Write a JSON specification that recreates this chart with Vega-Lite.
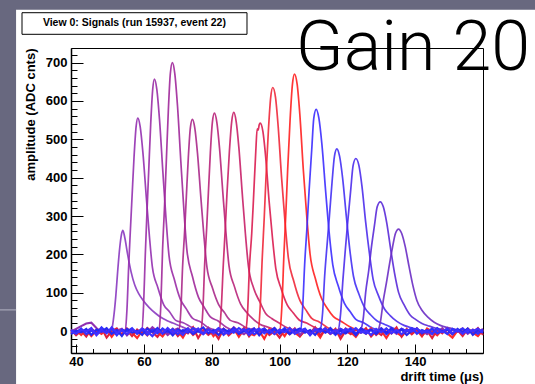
{
 "$schema": "https://vega.github.io/schema/vega-lite/v6.json",
 "width": 412, "height": 305,
 "autosize": {"type": "none"},
 "padding": {"left": 71, "top": 48, "right": 52, "bottom": 31},
 "background": "white",
 "config": {
  "view": {"stroke": "#000", "strokeWidth": 1},
  "axis": {"zindex": 1, "grid": false, "labelFont": "Liberation Sans", "titleFont": "Liberation Sans", "labelColor": "#000", "titleColor": "#000", "tickColor": "#000", "domainColor": "#000"}
 },
 "datasets": {
  "one": [{"k": 1}],
  "pulses": [
   {"c":"c01","x":49.8,"y":-2},{"c":"c01","x":50.4,"y":1},{"c":"c01","x":51.0,"y":30},{"c":"c01","x":51.7,"y":90},{"c":"c01","x":52.3,"y":160},{"c":"c01","x":52.9,"y":220},{"c":"c01","x":53.4,"y":253},{"c":"c01","x":53.8,"y":263},{"c":"c01","x":54.4,"y":242},{"c":"c01","x":55.2,"y":200},{"c":"c01","x":56.2,"y":155},{"c":"c01","x":57.3,"y":120},{"c":"c01","x":58.5,"y":97},{"c":"c01","x":59.8,"y":80},{"c":"c01","x":61.5,"y":62},{"c":"c01","x":63.5,"y":46},{"c":"c01","x":65.0,"y":36},{"c":"c01","x":66.7,"y":28},{"c":"c01","x":68.5,"y":21},{"c":"c01","x":70.5,"y":14},{"c":"c01","x":72.6,"y":6},{"c":"c01","x":74.5,"y":0},
   {"c":"c02","x":54.0,"y":0},{"c":"c02","x":54.5,"y":2},{"c":"c02","x":55.0,"y":56},{"c":"c02","x":55.5,"y":167},{"c":"c02","x":56.0,"y":261},{"c":"c02","x":56.5,"y":350},{"c":"c02","x":57.1,"y":455},{"c":"c02","x":57.7,"y":533},{"c":"c02","x":58.2,"y":555},{"c":"c02","x":58.9,"y":533},{"c":"c02","x":59.7,"y":466},{"c":"c02","x":60.7,"y":350},{"c":"c02","x":61.6,"y":250},{"c":"c02","x":62.5,"y":167},{"c":"c02","x":64.1,"y":114},{"c":"c02","x":65.9,"y":68},{"c":"c02","x":67.6,"y":50},{"c":"c02","x":69.4,"y":28},{"c":"c02","x":71.6,"y":22},{"c":"c02","x":74.1,"y":10},{"c":"c02","x":76.6,"y":3},
   {"c":"c03","x":58.9,"y":0},{"c":"c03","x":59.4,"y":1},{"c":"c03","x":59.9,"y":66},{"c":"c03","x":60.4,"y":197},{"c":"c03","x":60.9,"y":309},{"c":"c03","x":61.4,"y":414},{"c":"c03","x":62.0,"y":539},{"c":"c03","x":62.6,"y":631},{"c":"c03","x":63.1,"y":657},{"c":"c03","x":63.8,"y":631},{"c":"c03","x":64.6,"y":552},{"c":"c03","x":65.6,"y":414},{"c":"c03","x":66.5,"y":296},{"c":"c03","x":67.4,"y":197},{"c":"c03","x":69.0,"y":134},{"c":"c03","x":70.8,"y":82},{"c":"c03","x":72.5,"y":58},{"c":"c03","x":74.3,"y":34},{"c":"c03","x":76.5,"y":25},{"c":"c03","x":79.0,"y":9},{"c":"c03","x":81.5,"y":2},
   {"c":"c04","x":63.9,"y":0},{"c":"c04","x":64.4,"y":2},{"c":"c04","x":65.0,"y":70},{"c":"c04","x":65.5,"y":210},{"c":"c04","x":66.1,"y":329},{"c":"c04","x":66.6,"y":441},{"c":"c04","x":67.2,"y":574},{"c":"c04","x":67.8,"y":672},{"c":"c04","x":68.4,"y":700},{"c":"c04","x":69.1,"y":672},{"c":"c04","x":69.9,"y":588},{"c":"c04","x":70.9,"y":441},{"c":"c04","x":71.8,"y":315},{"c":"c04","x":72.7,"y":210},{"c":"c04","x":74.3,"y":143},{"c":"c04","x":76.1,"y":88},{"c":"c04","x":77.8,"y":62},{"c":"c04","x":79.6,"y":37},{"c":"c04","x":81.8,"y":27},{"c":"c04","x":84.3,"y":10},{"c":"c04","x":86.8,"y":1},
   {"c":"c05","x":69.8,"y":0},{"c":"c05","x":70.3,"y":1},{"c":"c05","x":70.9,"y":55},{"c":"c05","x":71.4,"y":166},{"c":"c05","x":72.0,"y":259},{"c":"c05","x":72.5,"y":348},{"c":"c05","x":73.1,"y":453},{"c":"c05","x":73.7,"y":530},{"c":"c05","x":74.3,"y":552},{"c":"c05","x":75.0,"y":530},{"c":"c05","x":75.8,"y":464},{"c":"c05","x":76.8,"y":348},{"c":"c05","x":77.7,"y":248},{"c":"c05","x":78.6,"y":166},{"c":"c05","x":80.2,"y":113},{"c":"c05","x":82.0,"y":70},{"c":"c05","x":83.7,"y":49},{"c":"c05","x":85.5,"y":28},{"c":"c05","x":87.7,"y":22},{"c":"c05","x":90.2,"y":9},{"c":"c05","x":92.7,"y":0},
   {"c":"c06","x":76.3,"y":0},{"c":"c06","x":76.8,"y":2},{"c":"c06","x":77.4,"y":57},{"c":"c06","x":77.9,"y":170},{"c":"c06","x":78.5,"y":267},{"c":"c06","x":79.0,"y":358},{"c":"c06","x":79.6,"y":466},{"c":"c06","x":80.2,"y":545},{"c":"c06","x":80.8,"y":568},{"c":"c06","x":81.5,"y":545},{"c":"c06","x":82.3,"y":477},{"c":"c06","x":83.3,"y":358},{"c":"c06","x":84.2,"y":256},{"c":"c06","x":85.1,"y":170},{"c":"c06","x":86.7,"y":116},{"c":"c06","x":88.5,"y":71},{"c":"c06","x":90.2,"y":50},{"c":"c06","x":92.0,"y":33},{"c":"c06","x":94.2,"y":18},{"c":"c06","x":96.7,"y":10},{"c":"c06","x":99.2,"y":2},
   {"c":"c07","x":81.7,"y":0},{"c":"c07","x":82.2,"y":1},{"c":"c07","x":82.8,"y":57},{"c":"c07","x":83.4,"y":171},{"c":"c07","x":84.0,"y":268},{"c":"c07","x":84.5,"y":359},{"c":"c07","x":85.2,"y":467},{"c":"c07","x":85.9,"y":547},{"c":"c07","x":86.5,"y":570},{"c":"c07","x":87.2,"y":547},{"c":"c07","x":88.0,"y":479},{"c":"c07","x":89.0,"y":359},{"c":"c07","x":89.9,"y":257},{"c":"c07","x":90.8,"y":171},{"c":"c07","x":92.4,"y":111},{"c":"c07","x":94.2,"y":76},{"c":"c07","x":95.9,"y":46},{"c":"c07","x":97.7,"y":33},{"c":"c07","x":99.9,"y":21},{"c":"c07","x":102.4,"y":8},{"c":"c07","x":104.9,"y":1},
   {"c":"c08","x":89.5,"y":0},{"c":"c08","x":90.0,"y":2},{"c":"c08","x":90.6,"y":54},{"c":"c08","x":91.1,"y":163},{"c":"c08","x":91.8,"y":255},{"c":"c08","x":92.3,"y":341},{"c":"c08","x":93.0,"y":470},{"c":"c08","x":93.4,"y":527},{"c":"c08","x":93.7,"y":524},{"c":"c08","x":94.0,"y":538},{"c":"c08","x":94.3,"y":542},{"c":"c08","x":95.1,"y":520},{"c":"c08","x":95.9,"y":455},{"c":"c08","x":96.9,"y":341},{"c":"c08","x":97.9,"y":244},{"c":"c08","x":98.9,"y":163},{"c":"c08","x":100.5,"y":110},{"c":"c08","x":102.3,"y":68},{"c":"c08","x":104.0,"y":48},{"c":"c08","x":105.8,"y":29},{"c":"c08","x":108.0,"y":21},{"c":"c08","x":110.5,"y":9},{"c":"c08","x":113.0,"y":0},
   {"c":"c09","x":93.2,"y":0},{"c":"c09","x":93.7,"y":1},{"c":"c09","x":94.3,"y":64},{"c":"c09","x":94.9,"y":191},{"c":"c09","x":95.5,"y":298},{"c":"c09","x":96.0,"y":400},{"c":"c09","x":96.7,"y":521},{"c":"c09","x":97.4,"y":610},{"c":"c09","x":98.0,"y":635},{"c":"c09","x":98.8,"y":610},{"c":"c09","x":99.6,"y":533},{"c":"c09","x":100.6,"y":400},{"c":"c09","x":101.6,"y":286},{"c":"c09","x":102.6,"y":191},{"c":"c09","x":104.2,"y":130},{"c":"c09","x":106.0,"y":80},{"c":"c09","x":107.7,"y":56},{"c":"c09","x":109.5,"y":33},{"c":"c09","x":111.7,"y":24},{"c":"c09","x":114.2,"y":9},{"c":"c09","x":116.7,"y":1},
   {"c":"c10","x":99.6,"y":0},{"c":"c10","x":100.1,"y":2},{"c":"c10","x":100.7,"y":67},{"c":"c10","x":101.3,"y":201},{"c":"c10","x":101.9,"y":315},{"c":"c10","x":102.4,"y":422},{"c":"c10","x":103.1,"y":549},{"c":"c10","x":103.8,"y":643},{"c":"c10","x":104.4,"y":670},{"c":"c10","x":105.2,"y":643},{"c":"c10","x":106.0,"y":563},{"c":"c10","x":107.0,"y":422},{"c":"c10","x":108.0,"y":302},{"c":"c10","x":109.0,"y":201},{"c":"c10","x":110.6,"y":136},{"c":"c10","x":112.4,"y":85},{"c":"c10","x":114.1,"y":59},{"c":"c10","x":115.9,"y":38},{"c":"c10","x":118.1,"y":26},{"c":"c10","x":120.6,"y":12},{"c":"c10","x":123.1,"y":2},
   {"c":"c11","x":105.7,"y":0},{"c":"c11","x":106.2,"y":1},{"c":"c11","x":106.8,"y":58},{"c":"c11","x":107.4,"y":173},{"c":"c11","x":108.1,"y":272},{"c":"c11","x":108.7,"y":364},{"c":"c11","x":109.5,"y":474},{"c":"c11","x":110.1,"y":555},{"c":"c11","x":110.8,"y":578},{"c":"c11","x":111.6,"y":555},{"c":"c11","x":112.5,"y":486},{"c":"c11","x":113.6,"y":364},{"c":"c11","x":114.6,"y":260},{"c":"c11","x":115.7,"y":173},{"c":"c11","x":117.3,"y":118},{"c":"c11","x":119.1,"y":73},{"c":"c11","x":120.8,"y":51},{"c":"c11","x":122.6,"y":30},{"c":"c11","x":124.8,"y":22},{"c":"c11","x":127.3,"y":8},{"c":"c11","x":129.8,"y":1},
   {"c":"c12","x":111.4,"y":0},{"c":"c12","x":111.9,"y":2},{"c":"c12","x":112.7,"y":48},{"c":"c12","x":113.3,"y":143},{"c":"c12","x":114.0,"y":223},{"c":"c12","x":114.7,"y":299},{"c":"c12","x":115.5,"y":390},{"c":"c12","x":116.2,"y":456},{"c":"c12","x":116.9,"y":475},{"c":"c12","x":117.7,"y":456},{"c":"c12","x":118.6,"y":399},{"c":"c12","x":119.7,"y":299},{"c":"c12","x":120.7,"y":214},{"c":"c12","x":121.8,"y":143},{"c":"c12","x":123.4,"y":97},{"c":"c12","x":125.2,"y":60},{"c":"c12","x":126.9,"y":42},{"c":"c12","x":128.7,"y":27},{"c":"c12","x":130.9,"y":18},{"c":"c12","x":133.4,"y":8},{"c":"c12","x":135.9,"y":0},
   {"c":"c13","x":116.7,"y":0},{"c":"c13","x":117.2,"y":1},{"c":"c13","x":118.0,"y":45},{"c":"c13","x":118.7,"y":135},{"c":"c13","x":119.4,"y":212},{"c":"c13","x":120.1,"y":284},{"c":"c13","x":121.0,"y":369},{"c":"c13","x":121.7,"y":432},{"c":"c13","x":122.5,"y":450},{"c":"c13","x":123.4,"y":432},{"c":"c13","x":124.3,"y":378},{"c":"c13","x":125.4,"y":284},{"c":"c13","x":126.5,"y":203},{"c":"c13","x":127.6,"y":135},{"c":"c13","x":129.2,"y":92},{"c":"c13","x":131.0,"y":57},{"c":"c13","x":132.7,"y":40},{"c":"c13","x":134.5,"y":26},{"c":"c13","x":136.7,"y":15},{"c":"c13","x":139.2,"y":8},{"c":"c13","x":141.7,"y":1},
   {"c":"c14","x":123.3,"y":0},{"c":"c14","x":123.8,"y":2},{"c":"c14","x":124.7,"y":34},{"c":"c14","x":125.4,"y":101},{"c":"c14","x":126.3,"y":158},{"c":"c14","x":127.0,"y":212},{"c":"c14","x":128.0,"y":276},{"c":"c14","x":128.8,"y":324},{"c":"c14","x":129.7,"y":337},{"c":"c14","x":130.6,"y":324},{"c":"c14","x":131.6,"y":283},{"c":"c14","x":132.8,"y":212},{"c":"c14","x":133.9,"y":152},{"c":"c14","x":135.1,"y":101},{"c":"c14","x":136.7,"y":69},{"c":"c14","x":138.5,"y":42},{"c":"c14","x":140.2,"y":30},{"c":"c14","x":142.0,"y":20},{"c":"c14","x":144.2,"y":13},{"c":"c14","x":146.7,"y":6},{"c":"c14","x":149.2,"y":0},
   {"c":"c15","x":128.4,"y":0},{"c":"c15","x":128.9,"y":1},{"c":"c15","x":129.8,"y":27},{"c":"c15","x":130.6,"y":80},{"c":"c15","x":131.5,"y":125},{"c":"c15","x":132.3,"y":168},{"c":"c15","x":133.3,"y":218},{"c":"c15","x":134.2,"y":255},{"c":"c15","x":135.1,"y":266},{"c":"c15","x":136.0,"y":255},{"c":"c15","x":137.0,"y":223},{"c":"c15","x":138.2,"y":168},{"c":"c15","x":139.3,"y":120},{"c":"c15","x":140.5,"y":80},{"c":"c15","x":142.1,"y":53},{"c":"c15","x":143.9,"y":35},{"c":"c15","x":145.6,"y":23},{"c":"c15","x":147.4,"y":15},{"c":"c15","x":149.6,"y":9},{"c":"c15","x":152.1,"y":4},{"c":"c15","x":154.6,"y":0}
  ],
  "noise": [
   {"x":38.5,"r1":-6,"r2":4,"p1":-1,"b1":3,"b2":-8,"b3":0},
   {"x":40,"r1":3,"r2":-11,"p1":6,"b1":-4,"b2":1,"b3":-7},
   {"x":41.5,"r1":-10,"r2":1,"p1":13,"b1":7,"b2":-3,"b3":4},
   {"x":43,"r1":4,"r2":-14,"p1":20,"b1":-8,"b2":6,"b3":-1},
   {"x":44.5,"r1":-13,"r2":6,"p1":22,"b1":1,"b2":-10,"b3":8},
   {"x":46,"r1":1,"r2":-4,"p1":8,"b1":-6,"b2":4,"b3":-11},
   {"x":47.5,"r1":-7,"r2":8,"p1":-3,"b1":10,"b2":-1,"b3":3},
   {"x":49,"r1":6,"r2":-17,"p1":4,"b1":-3,"b2":8,"b3":-6},
   {"x":50.5,"r1":-15,"r2":0,"p1":-8,"b1":6,"b2":-7,"b3":10},
   {"x":52,"r1":3,"r2":7,"p1":1,"b1":-11,"b2":3,"b3":-4},
   {"x":53.5,"r1":-8,"r2":-10,"p1":6,"b1":4,"b2":-13,"b3":1},
   {"x":55,"r1":7,"r2":3,"p1":-11,"b1":-1,"b2":6,"b3":-8},
   {"x":56.5,"r1":-4,"r2":-13,"p1":3,"b1":8,"b2":-4,"b3":4},
   {"x":58,"r1":-18,"r2":4,"p1":-6,"b1":-7,"b2":1,"b3":-3},
   {"x":59.5,"r1":1,"r2":-7,"p1":7,"b1":3,"b2":-10,"b3":7},
   {"x":61,"r1":-11,"r2":8,"p1":-4,"b1":-10,"b2":7,"b3":-1},
   {"x":62.5,"r1":6,"r2":-3,"p1":10,"b1":4,"b2":-3,"b3":-13},
   {"x":64,"r1":-3,"r2":-15,"p1":-1,"b1":-6,"b2":8,"b3":3},
   {"x":65.5,"r1":-14,"r2":3,"p1":4,"b1":7,"b2":-7,"b3":-6},
   {"x":67,"r1":4,"r2":-8,"p1":-10,"b1":-3,"b2":3,"b3":8},
   {"x":68.5,"r1":-7,"r2":6,"p1":1,"b1":6,"b2":-11,"b3":-4},
   {"x":70,"r1":0,"r2":-13,"p1":7,"b1":-8,"b2":4,"b3":1},
   {"x":71.5,"r1":-17,"r2":1,"p1":-6,"b1":3,"b2":-1,"b3":-10},
   {"x":73,"r1":6,"r2":-6,"p1":3,"b1":-4,"b2":7,"b3":6},
   {"x":74.5,"r1":-10,"r2":10,"p1":-8,"b1":8,"b2":-8,"b3":-3},
   {"x":76,"r1":1,"r2":-18,"p1":4,"b1":-1,"b2":1,"b3":7},
   {"x":77.5,"r1":-6,"r2":3,"p1":-3,"b1":-7,"b2":10,"b3":-8},
   {"x":79,"r1":8,"r2":-10,"p1":8,"b1":4,"b2":-6,"b3":3},
   {"x":80.5,"r1":-13,"r2":0,"p1":-7,"b1":-3,"b2":3,"b3":-4},
   {"x":82,"r1":3,"r2":-20,"p1":1,"b1":7,"b2":-10,"b3":8},
   {"x":83.5,"r1":-8,"r2":6,"p1":6,"b1":-10,"b2":6,"b3":-1},
   {"x":85,"r1":-1,"r2":-11,"p1":-4,"b1":3,"b2":-3,"b3":-7},
   {"x":86.5,"r1":7,"r2":1,"p1":10,"b1":-4,"b2":8,"b3":4},
   {"x":88,"r1":-15,"r2":-7,"p1":-1,"b1":8,"b2":-7,"b3":-3},
   {"x":89.5,"r1":4,"r2":8,"p1":-8,"b1":-1,"b2":1,"b3":6},
   {"x":91,"r1":-6,"r2":-14,"p1":3,"b1":6,"b2":-4,"b3":-10},
   {"x":92.5,"r1":-11,"r2":3,"p1":7,"b1":-8,"b2":7,"b3":1},
   {"x":94,"r1":1,"r2":-4,"p1":-6,"b1":1,"b2":-11,"b3":7},
   {"x":95.5,"r1":-20,"r2":7,"p1":1,"b1":7,"b2":3,"b3":-6},
   {"x":97,"r1":6,"r2":-10,"p1":-3,"b1":-6,"b2":-1,"b3":3},
   {"x":98.5,"r1":-7,"r2":0,"p1":8,"b1":3,"b2":8,"b3":-8},
   {"x":100,"r1":3,"r2":-17,"p1":-7,"b1":-3,"b2":-6,"b3":4},
   {"x":101.5,"r1":-13,"r2":4,"p1":4,"b1":8,"b2":4,"b3":-3},
   {"x":103,"r1":8,"r2":-8,"p1":-1,"b1":-7,"b2":-8,"b3":8},
   {"x":104.5,"r1":-4,"r2":7,"p1":6,"b1":4,"b2":1,"b3":-7},
   {"x":106,"r1":-14,"r2":-13,"p1":-10,"b1":-1,"b2":7,"b3":1},
   {"x":107.5,"r1":4,"r2":1,"p1":3,"b1":6,"b2":-4,"b3":6},
   {"x":109,"r1":-8,"r2":-6,"p1":-4,"b1":-8,"b2":3,"b3":-11},
   {"x":110.5,"r1":1,"r2":10,"p1":7,"b1":1,"b2":-10,"b3":4},
   {"x":112,"r1":-17,"r2":-11,"p1":-3,"b1":7,"b2":6,"b3":-1},
   {"x":113.5,"r1":6,"r2":3,"p1":8,"b1":-4,"b2":-3,"b3":7},
   {"x":115,"r1":-6,"r2":-7,"p1":-7,"b1":3,"b2":8,"b3":-6},
   {"x":116.5,"r1":0,"r2":6,"p1":1,"b1":-10,"b2":-7,"b3":3},
   {"x":118,"r1":-11,"r2":-20,"p1":6,"b1":6,"b2":1,"b3":-8},
   {"x":119.5,"r1":7,"r2":1,"p1":-4,"b1":-1,"b2":-6,"b3":6},
   {"x":121,"r1":-3,"r2":-8,"p1":3,"b1":8,"b2":4,"b3":-1},
   {"x":122.5,"r1":-15,"r2":4,"p1":-8,"b1":-6,"b2":-11,"b3":8},
   {"x":124,"r1":3,"r2":-4,"p1":7,"b1":1,"b2":7,"b3":-4},
   {"x":125.5,"r1":-7,"r2":8,"p1":-1,"b1":-7,"b2":-1,"b3":1},
   {"x":127,"r1":8,"r2":-14,"p1":4,"b1":4,"b2":3,"b3":-10},
   {"x":128.5,"r1":-10,"r2":0,"p1":-6,"b1":-3,"b2":-8,"b3":6},
   {"x":130,"r1":1,"r2":-10,"p1":8,"b1":7,"b2":6,"b3":-3},
   {"x":131.5,"r1":-18,"r2":6,"p1":-3,"b1":-8,"b2":-4,"b3":7},
   {"x":133,"r1":4,"r2":-6,"p1":3,"b1":3,"b2":8,"b3":-6},
   {"x":134.5,"r1":-4,"r2":10,"p1":-7,"b1":-4,"b2":-3,"b3":3},
   {"x":136,"r1":-13,"r2":-15,"p1":6,"b1":6,"b2":4,"b3":-8},
   {"x":137.5,"r1":6,"r2":3,"p1":-1,"b1":-1,"b2":-10,"b3":4},
   {"x":139,"r1":-8,"r2":-7,"p1":7,"b1":8,"b2":1,"b3":-1},
   {"x":140.5,"r1":3,"r2":7,"p1":-4,"b1":-7,"b2":7,"b3":7},
   {"x":142,"r1":-14,"r2":-11,"p1":1,"b1":3,"b2":-6,"b3":-4},
   {"x":143.5,"r1":7,"r2":1,"p1":-8,"b1":-3,"b2":3,"b3":1},
   {"x":145,"r1":-1,"r2":-18,"p1":4,"b1":7,"b2":-7,"b3":-8},
   {"x":146.5,"r1":-11,"r2":4,"p1":-3,"b1":-6,"b2":8,"b3":6},
   {"x":148,"r1":4,"r2":-6,"p1":8,"b1":1,"b2":-1,"b3":-3},
   {"x":149.5,"r1":-6,"r2":8,"p1":-6,"b1":-8,"b2":4,"b3":8},
   {"x":151,"r1":-17,"r2":-8,"p1":3,"b1":6,"b2":-8,"b3":-6},
   {"x":152.5,"r1":1,"r2":3,"p1":-1,"b1":-1,"b2":6,"b3":3},
   {"x":154,"r1":-8,"r2":-13,"p1":7,"b1":7,"b2":-3,"b3":-7},
   {"x":155.5,"r1":6,"r2":6,"p1":-7,"b1":-4,"b2":7,"b3":4},
   {"x":157,"r1":-4,"r2":-4,"p1":4,"b1":3,"b2":-10,"b3":-1},
   {"x":158.5,"r1":-13,"r2":8,"p1":-3,"b1":-7,"b2":3,"b3":7},
   {"x":160,"r1":3,"r2":-10,"p1":6,"b1":4,"b2":-4,"b3":-4}
  ]
 },
 "resolve": {"axis": {"x": "independent", "y": "independent"}},
 "layer": [
  {
   "data": {"name": "one"},
   "mark": {"type": "rect", "fill": "#68687f", "stroke": null, "clip": false},
   "encoding": {
    "x": {"datum": 0, "type": "quantitative", "scale": {"domain": [38.5, 160], "nice": false, "zero": false}, "axis": null},
    "x2": {"datum": 22.3},
    "y": {"datum": -200, "type": "quantitative", "scale": {"domain": [-57, 738], "nice": false, "zero": false}, "axis": null},
    "y2": {"datum": 900}
   }
  },
  {
   "data": {"name": "one"},
   "mark": {"type": "rect", "fill": "#68687f", "stroke": null, "clip": false},
   "encoding": {
    "x": {"datum": 0, "type": "quantitative", "scale": {"domain": [38.5, 160], "nice": false, "zero": false}, "axis": null},
    "x2": {"datum": 200},
    "y": {"datum": 838, "type": "quantitative", "scale": {"domain": [-57, 738], "nice": false, "zero": false}, "axis": null},
    "y2": {"datum": 900}
   }
  },
  {
   "data": {"name": "one"},
   "mark": {"type": "rect", "fill": "#a4a4b6", "stroke": null, "clip": false},
   "encoding": {
    "x": {"datum": 0, "type": "quantitative", "scale": {"domain": [38.5, 160], "nice": false, "zero": false}, "axis": null},
    "x2": {"datum": 22.3},
    "y": {"datum": 54, "type": "quantitative", "scale": {"domain": [-57, 738], "nice": false, "zero": false}, "axis": null},
    "y2": {"datum": 57}
   }
  },
  {
   "data": {"name": "one"},
   "mark": {"type": "rect", "fill": "white", "stroke": "#000", "strokeWidth": 1, "clip": false},
   "encoding": {
    "x": {"datum": 24.05, "type": "quantitative", "scale": {"domain": [38.5, 160], "nice": false, "zero": false}, "axis": null},
    "x2": {"datum": 90.4},
    "y": {"datum": 773.7, "type": "quantitative", "scale": {"domain": [-57, 738], "nice": false, "zero": false}, "axis": null},
    "y2": {"datum": 830}
   }
  },
  {
   "data": {"name": "one"},
   "mark": {"type": "text", "text": "View 0: Signals (run 15937, event 22)", "font": "Liberation Sans", "fontWeight": "bold", "fontSize": 10.5, "align": "center", "baseline": "middle", "color": "#000", "clip": false},
   "encoding": {
    "x": {"datum": 57.2, "type": "quantitative", "scale": {"domain": [38.5, 160], "nice": false, "zero": false}, "axis": null},
    "y": {"datum": 802, "type": "quantitative", "scale": {"domain": [-57, 738], "nice": false, "zero": false}, "axis": null}
   }
  },
  {
   "data": {"name": "one"},
   "mark": {"type": "text", "text": "Gain 20", "font": "Roboto", "fontWeight": 300, "fontSize": 70, "align": "left", "baseline": "alphabetic", "color": "#000", "clip": false},
   "encoding": {
    "x": {"datum": 104.8, "type": "quantitative", "scale": {"domain": [38.5, 160], "nice": false, "zero": false}, "axis": null},
    "y": {"datum": 680.6, "type": "quantitative", "scale": {"domain": [-57, 738], "nice": false, "zero": false}, "axis": null}
   }
  },
  {
   "data": {"name": "pulses"},
   "mark": {"type": "line", "interpolate": "monotone", "strokeWidth": 1.7, "opacity": 0.9},
   "encoding": {
    "x": {"field": "x", "type": "quantitative", "scale": {"domain": [38.5, 160], "nice": false, "zero": false},
      "axis": {"orient": "bottom", "values": [40, 60, 80, 100, 120, 140], "tickSize": -9, "tickWidth": 1, "domainWidth": 1.5, "labelFontSize": 13, "labelFontWeight": "bold", "labelPadding": 11, "labelFlush": false, "labelOverlap": false, "title": "drift time (μs)", "titleAnchor": "end", "titleFontSize": 13, "titleFontWeight": "bold", "titlePadding": 2}},
    "y": {"field": "y", "type": "quantitative", "scale": {"domain": [-57, 738], "nice": false, "zero": false},
      "axis": {"orient": "left", "values": [0, 100, 200, 300, 400, 500, 600, 700], "tickSize": -12, "tickWidth": 1, "domainWidth": 1.5, "labelFontSize": 13, "labelFontWeight": "bold", "labelPadding": 16, "labelOverlap": false, "title": "amplitude (ADC cnts)", "titleAnchor": "end", "titleFontSize": 13, "titleFontWeight": "bold", "titlePadding": 8}},
    "color": {"field": "c", "type": "nominal", "legend": null,
      "scale": {"domain": ["c01","c02","c03","c04","c05","c06","c07","c08","c09","c10","c11","c12","c13","c14","c15","r1","r2","p1","b1","b2","b3"],
                "range": ["#8a38c0","#9330b0","#9a2ca6","#a0289a","#aa288a","#b8247a","#c82068","#da1c50","#f0283a","#ff2020","#3c2cff","#4430f4","#4c2cec","#5a2ad8","#6a2cc4","#ff2a2a","#e0203c","#9030b0","#3232ff","#2828f0","#4030ff"]}}
   }
  },
  {
   "data": {"name": "noise"},
   "transform": [{"fold": ["r1", "r2", "p1"], "as": ["trace", "v"]}],
   "mark": {"type": "line", "strokeWidth": 2.1},
   "encoding": {
    "x": {"field": "x", "type": "quantitative", "scale": {"domain": [38.5, 160], "nice": false, "zero": false},
      "axis": {"orient": "bottom", "values": [45, 50, 55, 65, 70, 75, 85, 90, 95, 105, 110, 115, 125, 130, 135, 145, 150, 155], "tickSize": -4.5, "tickWidth": 1, "labels": false, "domain": false, "title": null}},
    "y": {"field": "v", "type": "quantitative", "scale": {"domain": [-57, 738], "nice": false, "zero": false},
      "axis": {"orient": "left", "values": [-40, -20, 20, 40, 60, 80, 120, 140, 160, 180, 220, 240, 260, 280, 320, 340, 360, 380, 420, 440, 460, 480, 520, 540, 560, 580, 620, 640, 660, 680, 720], "tickSize": -6, "tickWidth": 1, "labels": false, "domain": false, "title": null}},
    "color": {"field": "trace", "type": "nominal", "legend": null},
    "order": {"field": "x", "type": "quantitative"}
   }
  },
  {
   "data": {"name": "noise"},
   "transform": [{"fold": ["b1", "b2", "b3"], "as": ["trace", "v"]}],
   "mark": {"type": "line", "strokeWidth": 2.1},
   "encoding": {
    "x": {"field": "x", "type": "quantitative", "scale": {"domain": [38.5, 160], "nice": false, "zero": false}, "axis": null},
    "y": {"field": "v", "type": "quantitative", "scale": {"domain": [-57, 738], "nice": false, "zero": false}, "axis": null},
    "color": {"field": "trace", "type": "nominal", "legend": null},
    "order": {"field": "x", "type": "quantitative"}
   }
  }
 ]
}
